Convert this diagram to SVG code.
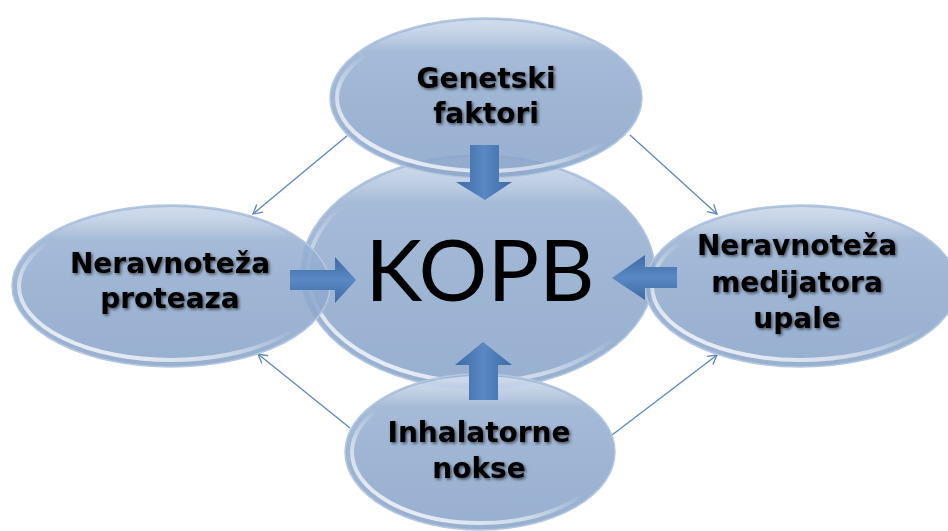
<svg xmlns="http://www.w3.org/2000/svg" width="948" height="531" viewBox="0 0 948 531">
<defs>
<linearGradient id="fillG" x1="0" y1="0" x2="0" y2="1">
<stop offset="0" stop-color="#9fb6d6"/>
<stop offset="0.5" stop-color="#91abce"/>
<stop offset="1" stop-color="#8aa5ca"/>
</linearGradient>
<linearGradient id="rimG" x1="0" y1="1" x2="0.6" y2="0.2">
<stop offset="0" stop-color="#ffffff" stop-opacity="0.95"/>
<stop offset="0.45" stop-color="#ffffff" stop-opacity="0.5"/>
<stop offset="0.7" stop-color="#ffffff" stop-opacity="0"/>
</linearGradient>
<linearGradient id="topG" x1="0" y1="0" x2="0" y2="1">
<stop offset="0" stop-color="#dfe8f4" stop-opacity="0.7"/>
<stop offset="0.2" stop-color="#ffffff" stop-opacity="0"/>
</linearGradient>
<linearGradient id="arrV" x1="0" y1="0" x2="1" y2="0">
<stop offset="0" stop-color="#3d6aa3"/>
<stop offset="0.5" stop-color="#5a88c4"/>
<stop offset="1" stop-color="#3d6aa3"/>
</linearGradient>
<linearGradient id="arrH" x1="0" y1="0" x2="0" y2="1">
<stop offset="0" stop-color="#3d6aa3"/>
<stop offset="0.5" stop-color="#5a88c4"/>
<stop offset="1" stop-color="#3d6aa3"/>
</linearGradient>
<filter id="ts" x="-10%" y="-30%" width="120%" height="160%">
<feDropShadow dx="1.5" dy="1.5" stdDeviation="1.5" flood-color="#000" flood-opacity="0.6"/>
</filter>
<marker id="open" markerWidth="12" markerHeight="12" refX="10" refY="6" orient="auto" markerUnits="userSpaceOnUse">
<path d="M1,1 L10,6 L1,11" fill="none" stroke="#5b87c0" stroke-width="1.3"/>
</marker>
<style>
.body{fill:url(#fillG);fill-opacity:0.88;stroke:#b4c7e0;stroke-width:1.5}
.rim{fill:none;stroke:url(#rimG);stroke-width:4}
.hl{fill:url(#topG)}
.lbl{font-family:"DejaVu Sans",Lato,sans-serif;font-weight:bold;font-size:28px;fill:#000;text-anchor:middle}
.big{font-family:Lato,"Open Sans","Liberation Sans",sans-serif;font-size:86px;fill:#000;text-anchor:middle}
.con{fill:none;stroke:#5b87c0;stroke-width:1.3}
</style>
</defs>
<rect width="948" height="531" fill="#ffffff"/>

<g id="connectors">
<line class="con" x1="348" y1="135" x2="253" y2="214" marker-end="url(#open)"/>
<line class="con" x1="630" y1="135" x2="717" y2="214" marker-end="url(#open)"/>
<line class="con" x1="350" y1="428" x2="258" y2="354" marker-end="url(#open)"/>
<line class="con" x1="612" y1="435" x2="717" y2="355" marker-end="url(#open)"/>
</g>

<g id="kopb">
<ellipse class="body" cx="478" cy="272" rx="177" ry="117"/>
<ellipse class="hl" cx="478" cy="272" rx="175" ry="115"/>
<ellipse class="rim" cx="478" cy="272" rx="170" ry="110"/>
</g>

<g id="genetski">
<ellipse class="body" cx="486" cy="98" rx="156" ry="80"/>
<ellipse class="hl" cx="486" cy="98" rx="154" ry="78"/>
<ellipse class="rim" cx="486" cy="98" rx="149" ry="73"/>
<text class="lbl" filter="url(#ts)"><tspan x="486" y="88">Genetski</tspan><tspan x="486" y="123">faktori</tspan></text>
</g>

<g id="proteaza">
<ellipse class="body" cx="171" cy="286" rx="159" ry="81"/>
<ellipse class="hl" cx="171" cy="286" rx="157" ry="79"/>
<ellipse class="rim" cx="171" cy="286" rx="152" ry="74"/>
<text class="lbl" filter="url(#ts)"><tspan x="170" y="273">Neravnoteža</tspan><tspan x="170" y="308">proteaza</tspan></text>
</g>

<g id="medijatora">
<ellipse class="body" cx="801" cy="286" rx="156" ry="81"/>
<ellipse class="hl" cx="801" cy="286" rx="154" ry="79"/>
<ellipse class="rim" cx="801" cy="286" rx="149" ry="74"/>
<text class="lbl" filter="url(#ts)"><tspan x="797" y="255">Neravnoteža</tspan><tspan x="797" y="292">medijatora</tspan><tspan x="797" y="328">upale</tspan></text>
</g>

<g id="inhalatorne">
<ellipse class="body" cx="480" cy="452" rx="135" ry="78"/>
<ellipse class="hl" cx="480" cy="452" rx="133" ry="76"/>
<ellipse class="rim" cx="480" cy="452" rx="128" ry="71"/>
<text class="lbl" filter="url(#ts)"><tspan x="479" y="442">Inhalatorne</tspan><tspan x="479" y="478">nokse</tspan></text>
</g>

<g id="arrows">
<polygon fill="url(#arrV)" points="470,145 499,145 499,182 512,182 485,200 456,182 470,182"/>
<polygon fill="url(#arrH)" points="290,270 335,270 335,257 356,280 335,303 335,290 290,290"/>
<polygon fill="url(#arrH)" points="677,267 645,267 645,255 612,278 645,300 645,288 677,288"/>
<polygon fill="url(#arrV)" points="483,342 512,365 498,365 498,400 469,400 469,365 455,365"/>
</g>

<g id="center-label">
<text class="big" x="480" y="301">KOPB</text>
</g>
</svg>
